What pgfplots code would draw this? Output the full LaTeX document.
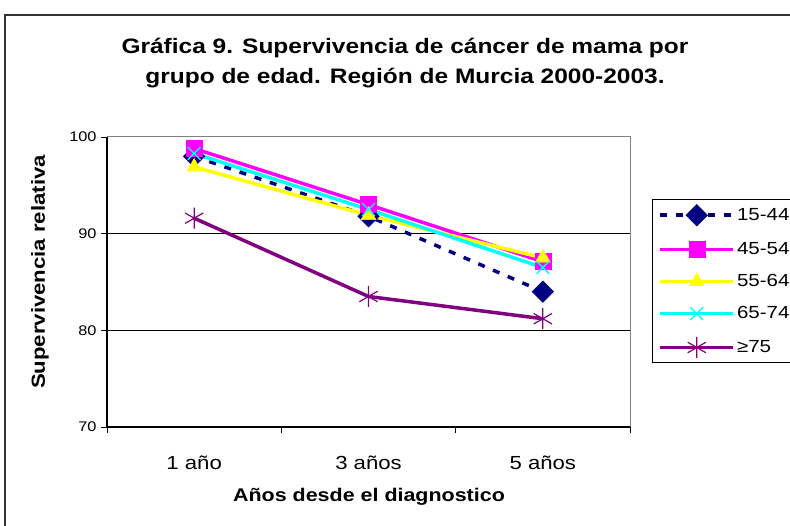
\documentclass[border=0pt]{standalone}
\usepackage{pgfplots}
\pgfplotsset{compat=1.18}
\usepackage{fontspec}
\setmainfont[FakeStretch=1.17]{Liberation Sans}
\definecolor{navyc}{HTML}{000080}
\definecolor{magc}{HTML}{FF00FF}
\definecolor{yelc}{HTML}{FFFF00}
\definecolor{cyac}{HTML}{00FFFF}
\definecolor{purc}{HTML}{800080}
\begin{document}
\begin{tikzpicture}[x=1bp,y=1bp]
\useasboundingbox (0,0) rectangle (790,526);
\clip (0,0) rectangle (790,526);
\fill[white] (0,0) rectangle (790,526);
\draw[line width=1.5bp, black!80] (5,-10) -- (5,511) -- (800,511);
\node[align=center, font=\fontsize{21}{30}\selectfont\bfseries] at (405,463) {Gráfica 9. Supervivencia de cáncer de mama por\\grupo de edad. Región de Murcia 2000-2003.};
\node[rotate=90, font=\fontsize{19}{20}\selectfont\bfseries] at (40,254) {Supervivencia relativa};
\node[font=\fontsize{18.4}{20}\selectfont\bfseries] at (369,29) {Años desde el diagnostico};
\begin{axis}[
  at={(107bp,99bp)}, anchor=south west, scale only axis,
  width=523bp, height=290bp,
  xmin=0, xmax=3, ymin=70, ymax=100,
  clip=false,
  /pgf/number format/assume math mode=true,
  axis line style={draw=gray, line width=1bp},
  xtick={0,1,2,3}, xticklabels={},
  extra x ticks={0.5,1.5,2.5},
  extra x tick labels={1 año,3 años,5 años},
  extra x tick style={major tick length=0pt, tick label style={font=\fontsize{19}{20}\selectfont, yshift=-25bp}},
  ytick={70,80,90,100},
  extra y ticks={80,90}, extra y tick labels={},
  extra y tick style={ymajorgrids=true, major tick length=0pt},
  grid style={black, line width=0.8bp},
  yticklabel style={font=\fontsize{14}{16}\selectfont, xshift=-1bp},
  tick align=outside, xtick pos=bottom, ytick pos=left,
  major tick length=6bp,
  tick style={black, line width=0.8bp},
  legend style={at={(1.0421,0.7862)}, anchor=north west, draw=black, line width=1bp,
    font=\fontsize{17.6}{20}\selectfont, row sep=14.5bp, inner xsep=6bp, inner ysep=5bp},
  legend cell align=left,
  legend image code/.code={\draw[mark repeat=2,mark phase=2,#1] plot coordinates {(0bp,0bp)(36.5bp,0bp)(73bp,0bp)};},
]
\draw[black, line width=1.2bp] (rel axis cs:0,1) -- (rel axis cs:0,0) -- (rel axis cs:1,0);
\addplot[color=navyc, line width=3.5bp, dash pattern=on 7bp off 9bp, mark=square*, mark size=7.6bp,
  mark options={solid, rotate=45, fill=navyc, line width=0.5bp}]
  coordinates {(0.5,98.0)(1.5,91.8)(2.5,84.0)};
\addlegendentry{15-44}
\addplot[color=magc, line width=3.5bp, mark=square*, mark size=8bp,
  mark options={fill=magc, line width=0.5bp}]
  coordinates {(0.5,98.8)(1.5,93.0)(2.5,87.1)};
\addlegendentry{45-54}
\addplot[color=yelc, line width=3.5bp, mark=triangle*, mark size=8.5bp,
  mark options={fill=yelc, line width=0.5bp}]
  coordinates {(0.5,96.9)(1.5,91.9)(2.5,87.5)};
\addlegendentry{55-64}
\addplot[color=cyac, line width=3.5bp, mark=x, mark size=9bp,
  mark options={line width=1.3bp}]
  coordinates {(0.5,98.3)(1.5,92.5)(2.5,86.5)};
\addlegendentry{65-74}
\addplot[color=purc, line width=3.5bp, mark=asterisk, mark size=10.5bp,
  mark options={line width=1.2bp}]
  coordinates {(0.5,91.6)(1.5,83.5)(2.5,81.2)};
\addlegendentry{≥75}
\end{axis}
\end{tikzpicture}
\end{document}
